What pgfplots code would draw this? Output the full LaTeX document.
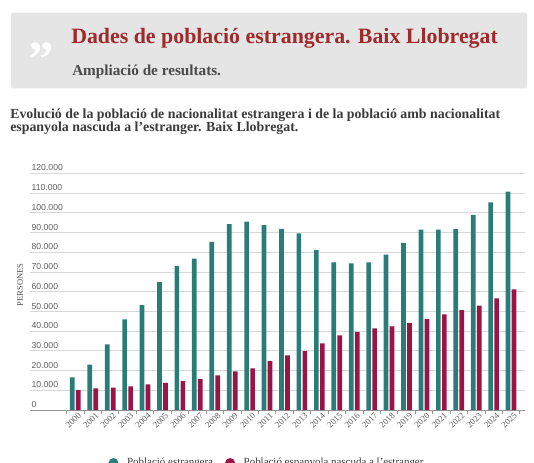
\documentclass[border=0pt]{standalone}
\usepackage{pgfplots}
\pgfplotsset{compat=1.18}
\usepackage{pgfplotstable}
\usepackage{fontspec}
\setmainfont{Liberation Serif}
\newfontfamily\sansf{Liberation Sans}
\definecolor{teal1}{HTML}{2A7C78}
\definecolor{red1}{HTML}{9A1446}
\definecolor{boxgray}{HTML}{E5E5E5}
\definecolor{titlered}{HTML}{9E2A2B}
\definecolor{subgray}{HTML}{4A4A4A}
\definecolor{captxt}{HTML}{3A3A3A}
\definecolor{gridc}{HTML}{D8D8D8}
\definecolor{labgray}{HTML}{5E5E5E}

\pgfplotstableread{
x year estr esp
0 2000 16600 10100
1 2001 23000 11000
2 2002 33300 11300
3 2003 46000 12000
4 2004 53200 13000
5 2005 64900 13700
6 2006 73000 14700
7 2007 76700 15700
8 2008 85300 17600
9 2009 94300 19600
10 2010 95500 21100
11 2011 93700 24800
12 2012 91900 27700
13 2013 89600 29800
14 2014 81100 33800
15 2015 74900 37900
16 2016 74400 39600
17 2017 74900 41400
18 2018 78800 42400
19 2019 84700 44000
20 2020 91400 46100
21 2021 91400 48500
22 2022 91900 50700
23 2023 99000 52900
24 2024 105300 56600
25 2025 110700 61200
}\datatable

\begin{document}
\begin{tikzpicture}
\useasboundingbox (0,0) rectangle (400.5pt,346.5pt);
\clip (0,0) rectangle (400.5pt,346.5pt);
% header box
\fill[boxgray, rounded corners=1.5pt] (8.25pt,280.3pt) rectangle (395.25pt,337pt);
\node[anchor=north west, text=white, inner sep=0pt, font=\fontsize{38pt}{38pt}\selectfont\bfseries] at (21.5pt,314.5pt) {\textquotedblright};
\node[anchor=base west, inner sep=0pt, text=titlered, font=\fontsize{16.4pt}{18pt}\selectfont\bfseries] at (53.25pt,313.9pt) {Dades de població estrangera. Baix Llobregat};
\node[anchor=base west, inner sep=0pt, text=subgray, font=\fontsize{11.4pt}{13pt}\selectfont\bfseries] at (54pt,290.25pt) {Ampliació de resultats.};
\node[anchor=base west, inner sep=0pt, text=captxt, font=\fontsize{10.4pt}{12pt}\selectfont\bfseries] at (7.5pt,257.8pt) {Evolució de la població de nacionalitat estrangera i de la població amb nacionalitat};
\node[anchor=base west, inner sep=0pt, text=captxt, font=\fontsize{10.4pt}{12pt}\selectfont\bfseries] at (7.5pt,247.7pt) {espanyola nascuda a l'estranger. Baix Llobregat.};

\begin{axis}[
  at={(22.5pt,39pt)}, anchor=south west,
  scale only axis, width=371.25pt, height=177.5pt,
  xmin=-2.6, xmax=25.8, ymin=0, ymax=120000,
  axis x line*=bottom, axis y line*=left,
  y axis line style={draw=none},
  x axis line style={draw=gray!85, line width=0.6pt},
  ytick={0,10000,...,120000},
  major tick length=0pt,
  minor xtick={-0.5,0.5,...,25.5},
  minor tick length=3pt, tick align=outside,
  minor tick style={draw=gray!85, line width=0.6pt},
  ymajorgrids, grid style={gridc, line width=0.6pt},
  /pgf/number format/assume math mode=true,
  /pgf/number format/fixed, /pgf/number format/1000 sep={.},
  scaled y ticks=false,
  yticklabel style={anchor=south west, inner sep=0pt, xshift=1pt, yshift=1.5pt, font=\sansf\fontsize{6.5pt}{7pt}\selectfont, text=labgray},
  xtick={0,...,25},
  xticklabels from table={\datatable}{year},
  xticklabel style={rotate=45, anchor=east, inner sep=0pt, yshift=-4.5pt, xshift=0.3pt, font=\fontsize{6.6pt}{7pt}\selectfont, text=labgray},
  ylabel={PERSONES},
  every axis y label/.style={at={(axis description cs:-0.0202,0.528)}, rotate=90, anchor=center, font=\fontsize{6.4pt}{7pt}\selectfont, text=subgray},
  ybar=1pt, bar width=3.5pt,
  legend columns=2,
  legend style={at={(axis description cs:0.158,-0.224)}, anchor=west, draw=none, fill=none, inner sep=0pt,
    nodes={inner sep=0pt}, font=\fontsize{8.2pt}{9pt}\selectfont, text=captxt,
    /tikz/every odd column/.append style={column sep=6.5pt},
    /tikz/every even column/.append style={column sep=9pt}},
]
\addplot[fill=teal1, draw=none, legend image code/.code={\fill[teal1] (3.75pt,0pt) circle (3.75pt);}] table[x=x, y=estr] {\datatable};
\addlegendentry{Població estrangera}
\addplot[fill=red1, draw=none, legend image code/.code={\fill[red1] (3.75pt,0pt) circle (3.75pt);}] table[x=x, y=esp] {\datatable};
\addlegendentry{Població espanyola nascuda a l'estranger}
\end{axis}
\end{tikzpicture}
\end{document}
